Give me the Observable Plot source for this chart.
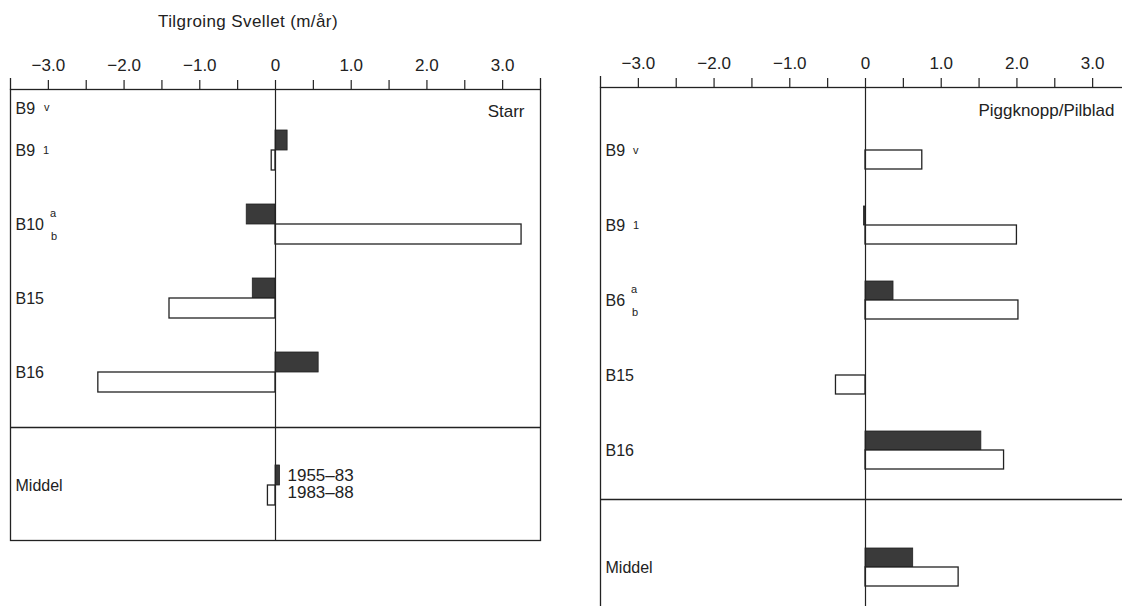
<!DOCTYPE html>
<html><head><meta charset="utf-8">
<script src="https://cdn.jsdelivr.net/npm/d3@7"></script>
<script src="https://cdn.jsdelivr.net/npm/@observablehq/plot@0.6"></script>
<style>
body{margin:0;background:#fff;}
#wrap{position:relative;width:1122px;height:606px;overflow:hidden;background:#fff;font-family:"Liberation Sans",Arial,sans-serif;color:#222;}
#title{position:absolute;left:148px;top:11px;width:200px;text-align:center;font-size:17px;letter-spacing:0.4px;white-space:nowrap;z-index:5;line-height:22px;}
#left{position:absolute;left:0;top:0;}
#right{position:absolute;left:589px;top:0;width:600px;}
svg{overflow:visible;max-width:none !important;}
</style></head><body>
<div id="wrap"><div id="left"></div><div id="right"></div><div id="title">Tilgroing Svellet (m/år)</div></div>
<script>
// ---- data ----
const xTicksMajor = [-3, -2, -1, 0, 1, 2, 3];
const xTickLabels = ["−3.0", "−2.0", "−1.0", "0", "1.0", "2.0", "3.0"];
const periods = ["1955–83", "1983–88"];

const starrNames = ["B9", "B10", "B15", "B16", "Middel"];
const starrMarks = ["1", "ab", "", "", ""];
const starr1955 = [0.16, -0.38, -0.30, 0.57, 0.06];
const starr1983 = [-0.05, 3.25, -1.40, -2.34, -0.10];

const pigNames = ["B9", "B9", "B6", "B15", "B16", "Middel"];
const pigMarks = ["v", "1", "ab", "", "", ""];
const pig1955 = [null, -0.02, 0.37, null, 1.53, 0.63];
const pig1983 = [0.75, 2.00, 2.02, -0.39, 1.83, 1.23];

// ---- helpers ----
const FONT = "Liberation Sans, Arial, sans-serif";
const LS = 16;
const ctx = document.createElement("canvas").getContext("2d");
function textW(s, size) { ctx.font = `${size}px ${FONT}`; return ctx.measureText(s).width; }

function panel(o) {
  const rows = o.names.map((n, i) => ({
    name: n, mark: o.marks[i], a: o.v1[i], b: o.v2[i],
    pos: n === "Middel" ? o.middelPos : i
  }));
  const h = o.barH;
  const dark = rows.filter(d => d.a != null);
  const white = rows.filter(d => d.b != null);
  const small = [];
  rows.forEach(d => {
    const w = textW(d.name, LS);
    if (d.mark === "ab") {
      small.push({pos: d.pos, t: "a", dx: 4 + w + 7, dy: -11});
      small.push({pos: d.pos, t: "b", dx: 4 + w + 8, dy: 12});
    } else if (d.mark) {
      small.push({pos: d.pos, t: d.mark, dx: 4 + w + 9, dy: 0});
    }
  });
  const halfTicks = d3.range(-3, 3.01, 0.5);
  const marks = [
    Plot.rect(dark, {x1: d => 0, x2: d => d.a, y1: d => d.pos - h, y2: d => d.pos, fill: "#3a3a3a", stroke: "#222", strokeWidth: 0.8}),
    Plot.rect(white, {x1: d => 0, x2: d => d.b, y1: d => d.pos, y2: d => d.pos + h, fill: "white", stroke: "#222", strokeWidth: 1.3}),
    Plot.ruleX([0], {stroke: "#222", strokeWidth: 1.2}),
    Plot.ruleY([o.divider], {stroke: "#222", strokeWidth: 1.3}),
    Plot.frame({stroke: "#222", strokeWidth: 1.3}),
    Plot.axisX({anchor: "top", ticks: halfTicks, tickSize: 10, tickFormat: () => "", stroke: "#222", strokeWidth: 1.2}),
    Plot.axisX({anchor: "top", ticks: [-3.5, 3.5], tickSize: 12, tickFormat: () => "", stroke: "#222", strokeWidth: 1.3}),
    Plot.axisX({anchor: "top", ticks: xTicksMajor, tickSize: 0, tickPadding: 19, fontSize: 17, fill: "#222",
      tickFormat: d => xTickLabels[xTicksMajor.indexOf(d)]}),
    Plot.text(rows, {frameAnchor: "left", y: "pos", text: "name", textAnchor: "start", dx: 5, fontSize: LS, fill: "#222"}),
    Plot.text(small, {frameAnchor: "left", y: "pos", text: "t", textAnchor: "start", fontSize: 11, fill: "#222"}),
    Plot.text([o.corner], {frameAnchor: "top-right", dx: -16, dy: o.cornerDy, fontSize: 17, fill: "#222", textAnchor: "end", letterSpacing: "0.9px"}),
    ...o.extra
  ];
  const svg = Plot.plot({
    width: o.width, height: o.height,
    marginLeft: o.mL, marginRight: o.mR, marginTop: o.mT, marginBottom: o.mB,
    style: {fontFamily: FONT, background: "transparent", overflow: "visible", maxWidth: "none"},
    x: {domain: [-3.5, 3.5], axis: null},
    y: {domain: [o.yTop, o.yBot], range: [o.mT, o.height - o.mB], axis: null},
    marks
  });
  // shift the small sub/superscripts next to their labels
  const groups = svg.querySelectorAll("g[aria-label='text']");
  const g = groups[1];
  if (g) g.querySelectorAll("text").forEach((t, i) => {
    const tr = t.getAttribute("transform") || "";
    t.setAttribute("transform", tr + ` translate(${small[i].dx},${small[i].dy})`);
  });
  return svg;
}

// left panel: Starr
const L = {step: 74, first: 150, top: 89, bottom: 540};
const left = panel({
  names: starrNames, marks: starrMarks, v1: starr1955, v2: starr1983,
  width: 560, height: 606, mL: 10, mR: 20, mT: L.top, mB: 606 - L.bottom,
  yTop: (L.top - L.first) / L.step, yBot: (L.bottom - L.first) / L.step,
  middelPos: (485 - L.first) / L.step, divider: (427 - L.first) / L.step,
  barH: 20 / L.step, corner: "Starr", cornerDy: 15,
  extra: [
    Plot.text(["B9"], {frameAnchor: "top-left", dx: 5, dy: 13, fontSize: LS, fill: "#222", textAnchor: "start"}),
    Plot.text(["v"], {frameAnchor: "top-left", dx: 5 + textW("B9", LS) + 9, dy: 14, fontSize: 11, fill: "#222", textAnchor: "start"}),
    Plot.text(periods, {x: 0, y: (d, i) => (485 - L.first) / L.step + (i === 0 ? -0.13 : 0.1), dx: 12, textAnchor: "start", fontSize: 17, fill: "#222"})
  ]
});
document.getElementById("left").appendChild(left);

// right panel: Piggknopp/Pilblad
const R = {step: 75, first: 150, top: 87};
const right = panel({
  names: pigNames, marks: pigMarks, v1: pig1955, v2: pig1983,
  width: 560, height: 660, mL: 11, mR: 19, mT: R.top, mB: 20,
  yTop: (R.top - R.first) / R.step, yBot: (640 - R.first) / R.step,
  middelPos: (567 - R.first) / R.step, divider: (499 - R.first) / R.step,
  barH: 19 / R.step, corner: "Piggknopp/Pilblad", cornerDy: 16,
  extra: []
});
document.getElementById("right").appendChild(right);
</script>
</body></html>
